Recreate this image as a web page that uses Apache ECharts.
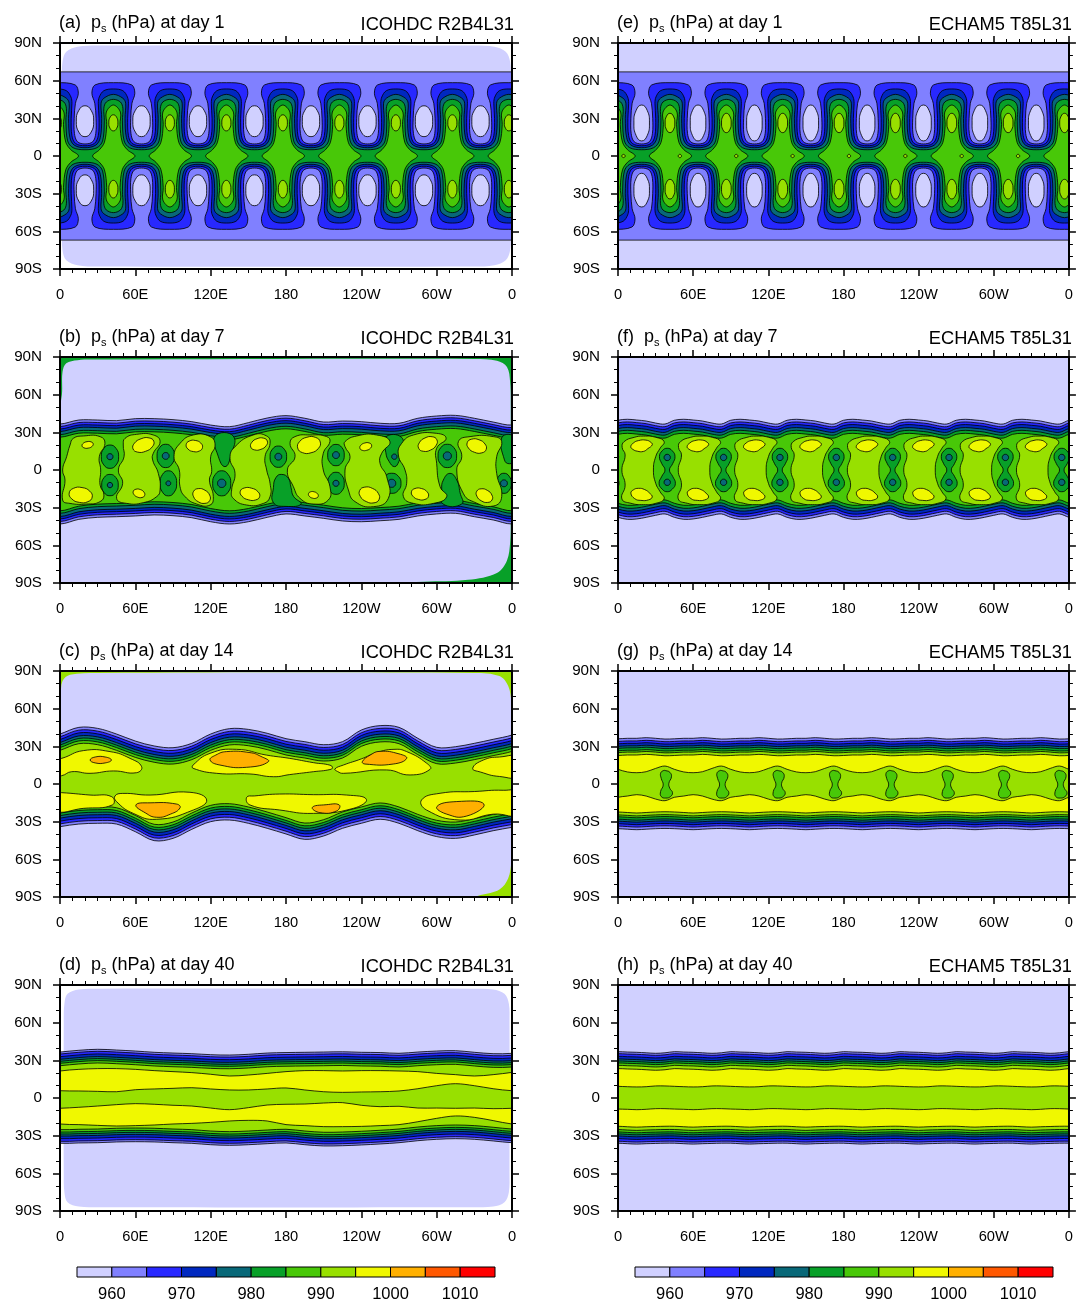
<!DOCTYPE html>
<html><head><meta charset="utf-8">
<style>html,body{margin:0;padding:0;background:#fff}#c{width:1076px;height:1303px}</style>
<script src="https://cdn.jsdelivr.net/npm/echarts@6/dist/echarts.min.js"></script>
</head><body><div id="c"></div>
<script>
const LEVEL_COLORS=['#D0D0FF','#8080FF','#2828FF','#0028C0','#086878','#08A028','#48C808','#98E000','#F0F800','#FFB000','#FF5800','#FF0000'];
const LEVEL_EDGES=[955,960,965,970,975,980,985,990,995,1000,1005,1010,1015];
const LON_LABELS=['0','60E','120E','180','120W','60W','0'];
const LAT_LABELS=['90S','60S','30S','0','30N','60N','90N'];
const PANEL_TAGS=['(a)','(b)','(c)','(d)','(e)','(f)','(g)','(h)'];
const PANEL_DAYS=[1,7,14,40,1,7,14,40];
const MODEL_NAMES=['ICOHDC R2B4L31','ECHAM5 T85L31'];

/* ---- corner-free area of the ICOHDC panels (lon,lat) ---- */
const ROUND_A=[[1.5,60],[2,75],[5,83],[14,87],[30,88],[330,88],[346,87],[355,83],[358.5,75],[359,60],[359,-60],[358.5,-75],[355,-83],[346,-87],[330,-88],[30,-88],[14,-87],[5,-83],[2,-75],[1.5,-60]];
const ROUND_B=[[1.5,60],[2,78],[5,85],[14,87.5],[30,88],[330,88.5],[348,87],[356,82],[358.5,70],[359,50],[359,-40],[358.5,-58],[356,-72],[348,-82],[325,-87.5],[290,-89],[200,-92],[-5,-92],[-5,0],[-2,40]];
const ROUND_C=[[0.5,70],[2,82],[8,87],[30,88.5],[330,88.5],[350,86],[357,78],[359.5,65],[360,50],[365,0],[360,-50],[359.5,-62],[357,-75],[350,-84],[335,-88.5],[320,-92],[-5,-92],[-5,0],[-2,50]];
const ROUND_D=[[3,60],[3.5,75],[6,83],[15,86.5],[30,87],[330,87],[345,86.5],[354,83],[357.5,75],[358,60],[358,-60],[357.5,-75],[354,-83],[345,-86.5],[330,-87],[30,-87],[15,-86.5],[6,-83],[3.5,-75],[3,-60]];

/* ---- day 1: one 45-degree wave cell, [lon from oval centre, lat] ---- */
const MEANDER_L2=[[0,9.6],[6.2,11.4],[8.6,18],[8.8,30],[7.8,42],[5.5,50],[8,56.6],[22.6,58.4],[37.2,56.6],[39.7,50],[37.4,42],[36.4,30],[36.6,18],[39,11.4]];
const MEANDER_L3=[[0,8.2],[7.5,10],[10.6,16.2],[11.2,30],[10.6,42],[11.4,47],[15,52],[22.6,53.4],[30.2,52],[33.8,47],[34.6,42],[34,30],[34.6,16.2],[37.5,10]];
const MEANDER_L4=[[0,6.6],[8.5,8.6],[12.2,14.6],[13.3,30],[12.8,42],[15,46],[22.6,49.1],[30.2,46],[32.4,42],[31.9,30],[33,14.6],[36.5,8.6]];
const MEANDER_L5=[[0,5],[9.5,6.6],[14,12],[15.4,28],[15,38],[17,43],[22.6,45.1],[28.2,43],[30.2,38],[29.8,28],[31.2,12],[35.5,6.6]];
const DIAMOND_L6=[[6.1,0],[11.5,5],[15.5,11],[17.3,25],[17,35],[22.6,40.6],[28.2,35],[27.9,25],[29.7,11],[33.7,5],[39.8,0],[33.7,-5],[29.7,-11],[27.9,-25],[28.2,-35],[22.6,-40.6],[17,-35],[17.3,-25],[15.5,-11],[11.5,-5]];
const ISLANDS_E=[[22.6,26.3,3.85,7.7],[22.6,-26.4,3.85,7.8]];
const ISLANDS_A=[[22.6,26.4,3.6,6.4],[22.6,-26.4,3.6,7]];
const OVALS_E=[[0,26.3,6.2,14.3],[0,-27.2,6.2,13.4]];
const OVALS_A=[[0,27.7,6.9,12.3],[0,-27.3,6.9,12.3]];
const DOT_E=[[30.5,0,1.3,1.3]];

/* ---- north / south outer contour at 0,15,...,360E ---- */
const B_NORTH=[36.6,39.8,39.8,39.3,40.9,40.9,40.1,38.5,35.8,34.5,37.7,41.4,43.3,41.2,38.2,39,38.5,37.2,37.2,41.2,43,43.5,41.2,38.2,35.8];
const B_SOUTH=[-43,-39.3,-37.7,-37.2,-36.6,-35.8,-36.4,-38,-41.2,-43,-41.2,-37.7,-35,-36.6,-38.5,-40.6,-41.2,-40.4,-39.3,-36.6,-35,-34.5,-37.2,-39.8,-43];
const C_NORTH=[39.8,45.1,44.3,39.8,34.2,30.3,28.9,32.4,39.8,44.1,43.5,40.4,36.1,33.7,31.3,33.7,43,46.5,45.1,36.4,29.2,29.7,32.4,35.6,39];
const C_SOUTH=[-34,-31.9,-31.3,-31.9,-38,-45.1,-43.3,-36.1,-30,-28.7,-31.3,-35.3,-39.8,-44.1,-41.4,-35.3,-31.3,-28.1,-31.3,-37.2,-41.9,-43.3,-40.6,-37.2,-34.5];
const D_NORTH=[36.6,38,38.8,38.2,37.4,36.4,35.8,35.3,34.5,34.2,34.8,35.8,36.2,36.4,36.6,36.8,36.4,36.2,35.6,36.6,37.4,37.7,36.4,35.3,35.6];
const D_SOUTH=[-36.1,-35.8,-35.6,-35,-34.8,-35,-35.6,-36.1,-37.2,-37.7,-37.2,-36.4,-35.8,-37.2,-38.2,-38,-37.4,-36.6,-35.6,-34,-32.9,-32.4,-32.9,-34.2,-35.6];
const D_NORTH_L8=[21.5,22.8,23.4,23.4,22.8,21.8,21,20.2,18.9,17.5,18.3,19.6,21,21.8,21.8,21.5,21.8,21.8,21.5,21,19.6,18.6,17.5,18.6,20.4];
const D_SOUTH_L8=[-20.7,-21.2,-21.8,-22.3,-22,-21.5,-20.7,-20.2,-19.4,-18.3,-17.8,-18.3,-21.2,-22,-22.8,-22.8,-22.6,-22,-21.2,-18.9,-16.2,-14.3,-15.4,-18,-20.7];
const D_CENTRE_N=[5.8,5.6,5.3,5,6.6,7.2,7.7,8.2,7.2,6.4,6.4,7.2,8,6.4,5,4.5,4.8,5,5.6,7.4,9.8,11.4,9.8,7.4,5.8];
const D_CENTRE_S=[-8.2,-7.4,-6.4,-5.3,-4.5,-5,-5.8,-6.4,-8,-9.3,-7.7,-5.6,-5,-4.8,-4,-3.7,-5.8,-6.9,-6.6,-8,-8,-8.2,-8,-8.5,-8.2];
const INSETS_B=[0,2,4,6,8.5,10.5];
const INSETS_C=[0,2.2,4.4,6.8,8.8,10.8,13];
const INSETS_D=[0,1.6,3.7,5.8,7.4,9,10.9];

/* ---- ECHAM5 wave cells: lat at 0,7.5,...,37.5 degrees of each 45-degree wave ---- */
const F_NORTH=[39.6,40.4,39.8,39,37.4,36.6];
const F_SOUTH=[-37.7,-39.3,-39,-37.7,-36.1,-35];
const INSETS_F=[0,2.1,4.2,6.6,8.8,11.2];
const G_NORTH=[36,36.4,36.4,36.9,36.4,35.8];
const G_SOUTH=[-35.6,-36,-36.4,-36,-35.6,-35.4];
const INSETS_G=[0,2.1,4,6,7.6,9.5,11,13.3];
const G_CENTRE_N=[11.7,9.6,9,9.8,12.4,14.3];
const G_CENTRE_S=[-10.6,-9.6,-8.5,-9.6,-12,-13.3];
const H_NORTH=[36.9,36.6,36.4,36,35.6,36];
const H_SOUTH=[-36,-36.4,-36.7,-36.4,-36.2,-36];
const INSETS_H=[0,1.6,3.7,5.8,7.4,9,10.9,13.5];
const H_CENTRE_N=[9.3,9,8.8,9,9.6,9.6];
const H_CENTRE_S=[-8.8,-9,-9.3,-9,-8.5,-8.5];

/* ---- day 7 f: cell shapes, [lon from depression centre, lat] ---- */
const F_BLOB=[[10.6,22.6],[18.6,26],[26,27],[36,26],[42.5,22.6],[39.3,17.3],[35.8,10.6],[34,0],[35.8,-10.6],[39.3,-17.3],[42.5,-23],[36,-26.5],[26,-27.6],[16,-26.5],[8.8,-23],[11.4,-12],[8.8,0],[11.4,12],[9,18]];
const F_YELLOW_N=[[15.9,18.6],[18,21.5],[22,23.4],[28,23.8],[32,22],[33,20],[29.5,17],[26,14.8],[21,15],[17.5,16.5]];
const F_YELLOW_S=[[16,-18.5],[18,-15.8],[22,-14.6],[27,-15.6],[31,-18.5],[33,-21.5],[30,-23.8],[24,-24.2],[19,-22.8]];
const F_PEANUT=[[0,17.3],[4,15.3],[6.2,10.6],[4.3,5],[1.8,0],[4.3,-5],[6.5,-10.6],[4,-15.3],[0,-17.3],[-4,-15.3],[-6.5,-10.6],[-4.3,-5],[-1.8,0],[-4.3,5],[-6.2,10.6],[-4,15.3]];
const F_CORES=[[0,10,2.5,2.5],[0,-9.8,2.5,2.5]];
const G_PEANUT=[[0,10.6],[3.2,9.3],[4.5,5.8],[2.4,0.5],[3.2,-3.5],[5.3,-6.9],[3.7,-10],[0,-11.2],[-3.7,-10],[-4.2,-6],[-2.1,-0.8],[-3.7,4.5],[-4.2,8.5],[-2.1,10.6]];

/* ---- day 7 b: contour polygons and ovals ---- */
const B_BLOBS=[
[[10.6,25.2],[18.6,27.1],[31.9,26.6],[35.8,21.2],[31.3,10.6],[32.4,0],[31.9,-11.9],[35,-19.9],[31.9,-25.2],[21.2,-27.1],[8,-26.6],[2.1,-23.9],[4,-8],[2.1,0],[5.3,10.6],[8,19.9]],
[[51.8,25.2],[61,28.4],[74.3,27.9],[79.7,22.6],[74.3,13.3],[73.8,8],[78.3,-2.7],[79.7,-15.9],[77,-21.2],[66.4,-26],[53.1,-26.6],[45.1,-22.6],[49.9,-10.6],[46.5,0],[51,10.6],[50.4,19.9]],
[[95.6,21.2],[106.2,27.9],[119.5,26.6],[123.5,19.9],[120,10.6],[120.8,-1.3],[119,-8],[122.1,-21.2],[119.5,-27.9],[108.9,-27.1],[99.6,-21.2],[95.6,-13.3],[95,0],[90.8,10.6]],
[[139.4,18.6],[154,27.9],[164.6,27.1],[167.3,21.2],[163.3,10.6],[164.6,0],[167.3,-10.6],[167.3,-21.2],[162,-26.6],[148.7,-27.9],[138,-22.6],[136.7,-15.9],[139.4,-2.7],[135.4,9.3]],
[[187.2,26.6],[199.1,27.9],[212.4,26.6],[215,22.6],[209.7,13.3],[209.7,0],[215,-13.3],[213.7,-23.9],[201.8,-27.1],[191.2,-22.6],[185.9,-13.3],[181.1,0],[187.2,10.6],[183.2,21.2]],
[[227,22.6],[236.3,27.1],[252.2,27.9],[262.8,22.6],[256.2,13.3],[254.9,5.3],[260.2,-5.3],[261.5,-22.6],[249.6,-29.2],[235,-25.2],[229.7,-15.9],[227,0],[231,10.6],[227,18.6]],
[[272.1,21.2],[281.5,27.9],[300,29.2],[307.5,25.2],[300,17.3],[300,5.3],[302.7,-13.3],[308,-21.2],[297.4,-26.6],[281.5,-26.6],[273.5,-21.2],[276.1,-10.6],[274.8,0],[269.5,11.9]],
[[317.3,22.6],[326.6,26.6],[345.1,26.6],[351.8,22.6],[347.8,10.6],[347.8,-2.7],[351.8,-21.2],[345.1,-28.7],[329.1,-25.2],[321.2,-18.6],[316,0],[320,10.6]]];
const B_YELLOW=[[22,20,4.5,2.6,10],[16.5,-19.9,9.3,6,-10],[66.4,19.9,8.8,5.3,20],[62.9,-18.6,4.8,3.2,-20],[107,19.1,6.6,4.5,-10],[112.8,-20.7,7.4,5.3,-30],[158.5,20.7,7,4.5,20],[151.3,-19.1,8,4.8,-15],[198.3,19.9,9.3,6.4,15],[201.8,-19.9,4,2.6,-15],[243.5,18.6,4.8,3,15],[246.4,-19.9,8.5,5.8,-25],[292.9,20.7,8,5.3,25],[286.7,-19.1,7,4.5,-15],[331.9,19.1,8,5.3,-20],[338,-20.4,7,4.8,-30]];
const B_LOWS=[[39.8,10.6,6.9,9.3],[39.8,-12,6.6,8.5],[84.2,11.2,6.9,9.3],[86.3,-10.6,6.6,10],[128.8,-10.6,7.2,10],[173.9,10.6,6.6,8.5],[219.8,11.9,6.6,8.5],[219.8,-10.6,6.6,8.8],[264.2,-10.6,7.4,8],[308.5,11.2,7.4,9.3],[353.6,-10.6,5.8,8]];
const B_TONGUES=[
[[123.5,27],[138,27],[136,11],[131.4,2.7],[126,11]],
[[170,-26],[170,-14],[172,-6],[176.6,-3.5],[181.9,-6.6],[184,-14],[186,-21],[192,-27],[180,-29]],
[[259,26],[272,26],[272,14],[270,7],[266.5,2.7],[262,7],[259.5,14]],
[[305.3,-8],[310.6,-2.7],[316,-8],[318.6,-18],[320,-27],[305,-27],[304,-16]],
[[352,26],[362,26],[362,8],[358,5],[354,8]]];
const B_CORES=[[39.8,10.6,2.4,2.4],[39.8,-12,2.1,2.1],[84.2,11.2,2.7,2.7],[86.3,-10.6,1.9,1.9],[128.8,-10.6,3.3,3.3],[173.9,10.6,2.7,2.7],[219.8,11.9,2.7,2.7],[219.8,-10.6,2.4,2.4],[266.3,10.6,2.1,2.1],[264.2,-10.6,3.2,3.2],[308.5,11.2,3.2,3.2],[353.6,-10.6,2.7,2.7]];

/* ---- day 14 c ---- */
const C_YELLOW=[
[[-4,20],[1.3,20.4],[18.6,26.6],[39.8,25.8],[55.8,20.4],[65,13.8],[61,9],[42.5,10.4],[23.9,8.5],[9.3,9.8],[1.3,6.6],[-4,7]],
[[106,15.1],[119.5,24.4],[140.7,27.6],[164.6,23],[183,20.4],[201.8,17],[215,15],[217,13],[215,11.5],[201.8,9.8],[183,7.5],[170,5.8],[151.3,8],[124.8,8.5],[106,12.5]],
[[219,12],[225.7,15.1],[240,20],[252.2,25],[266,27.6],[276.1,25.8],[292.1,16.5],[294.8,11.7],[278.8,7.2],[260.2,11.2],[225.7,8.5],[221,10]],
[[328.7,12.5],[337.2,19.1],[350,21.5],[366,21],[366,6.5],[350,6],[335,9.5]],
[[-4,-7],[1.3,-6.9],[23.9,-8.8],[41.2,-10.1],[41.7,-16.7],[18.6,-19.4],[-4,-21]],
[[43.8,-9.5],[50,-7.5],[71.7,-8.8],[103.5,-6.6],[116.8,-12.7],[106.2,-20.7],[77,-28.1],[58.4,-23.4],[45,-14]],
[[148.7,-10.6],[155,-9.5],[175,-8],[201.8,-8.5],[228.3,-8.8],[244,-12.2],[233.6,-19.4],[201.8,-23.4],[175,-20.7],[151.3,-16.7]],
[[288,-12.7],[302.7,-7.4],[330,-6],[353,-5],[366,-7],[366,-24],[345,-24],[318.6,-28.7],[291.9,-20.7]]];
const C_ORANGE=[
[[24,19.1],[28,21.5],[36,21.5],[40.9,19.1],[36,16.8],[28,16.8]],
[[119.5,19.1],[124,23],[132.7,25.8],[151.3,25],[160,22],[166,17.8],[148.7,13.3],[127.4,15.1]],
[[240.8,17.8],[247,23],[254.9,26],[270,24],[276.1,20.4],[265.4,15.9],[242.9,15.9]],
[[60.5,-16.7],[71.7,-15],[93,-16],[95.6,-19],[88,-24],[77,-26.5],[68,-23]],
[[201,-18.6],[212,-16.5],[222.4,-16.7],[220.3,-21.5],[207,-22.8]],
[[300.2,-18],[316,-14],[337.6,-16],[324,-25.5],[308,-24]]];

/* ---- builders: turn the arrays above into contour polygons ---- */
const WHOLE=[[-10,100],[370,100],[370,-100],[-10,-100]];
const zonal=(lats)=>{const o=[[-15,lats[23]]];lats.forEach((v,i)=>o.push([i*15,v]));o.push([375,lats[1]]);return o;};
const waved=(cell)=>{const o=[];for(let n=-1;n<9;n++)cell.forEach((v,i)=>o.push([45*n+7.5*i,v]));return o;};
const down=(edge,d)=>edge.map(p=>[p[0],p[1]-d]);
const between=(n,s)=>n.concat(s.slice().reverse());
const moved=(pts,dx)=>pts.map(p=>[p[0]+dx,p[1]]);
const oval=(e)=>{const k=0.7071,[x,y,a,b]=e,t=(e[4]||0)*Math.PI/180,c=Math.cos(t),q=Math.sin(t);
  return [[0,b],[a*k,b*k],[a,0],[a*k,-b*k],[0,-b],[-a*k,-b*k],[-a,0],[-a*k,b*k]].map(p=>[x+p[0]*c-p[1]*q,y+p[0]*q+p[1]*c]);};
const S=(level,pts,opt)=>Object.assign({level,pts},opt||{});
const R={round:1};
function bands(list,north,south,insets){insets.forEach((d,i)=>list.push(S(i+1,between(down(north,d),down(south,-d)))));}
function eachWave(shift,fn){for(let n=-1;n<9;n++)fn(shift+45*n);}

function day1(corner,round,shift,islands,ovals,dots){
  const L=[];
  L.push(S(corner,WHOLE,{sharp:1,noLine:1}));
  if(round)L.push(S(0,round,{noLine:1}));
  L.push(S(1,[[-10,67],[370,67],[370,-67],[-10,-67]],{sharp:1}));
  [MEANDER_L2,MEANDER_L3,MEANDER_L4,MEANDER_L5].forEach((m,i)=>{
    const n=[],s=[];eachWave(shift,x=>m.forEach(p=>{n.push([p[0]+x,p[1]]);s.push([p[0]+x,-p[1]]);}));
    L.push(S(i+2,between(n,s)));
  });
  eachWave(shift,x=>{
    L.push(S(6,moved(DIAMOND_L6,x)));
    islands.forEach(e=>L.push(S(7,moved(oval(e),x),R)));
    ovals.forEach(e=>L.push(S(0,moved(oval(e),x),R)));
    dots.forEach(e=>L.push(S(7,moved(oval(e),x),R)));
  });
  return L;
}
function panelB(){
  const L=[S(5,WHOLE,{sharp:1,noLine:1}),S(0,ROUND_B,{noLine:1})];
  bands(L,zonal(B_NORTH),zonal(B_SOUTH),INSETS_B);
  B_TONGUES.forEach(p=>L.push(S(5,p,R)));
  B_LOWS.forEach(e=>L.push(S(5,oval(e),R)));
  B_CORES.forEach(e=>L.push(S(4,oval(e),R)));
  B_BLOBS.forEach(p=>L.push(S(7,p,R)));
  B_YELLOW.forEach(e=>L.push(S(8,oval(e),R)));
  return L;
}
function panelC(){
  const L=[S(7,WHOLE,{sharp:1,noLine:1}),S(0,ROUND_C,{noLine:1})];
  bands(L,zonal(C_NORTH),zonal(C_SOUTH),INSETS_C);
  C_YELLOW.forEach(p=>L.push(S(8,p,R)));
  C_ORANGE.forEach(p=>L.push(S(9,p,R)));
  return L;
}
function panelD(){
  const L=[S(-1,WHOLE,{sharp:1,noLine:1}),S(0,ROUND_D,{noLine:1})];
  bands(L,zonal(D_NORTH),zonal(D_SOUTH),INSETS_D);
  L.push(S(8,between(zonal(D_NORTH_L8),zonal(D_SOUTH_L8))));
  L.push(S(7,between(zonal(D_CENTRE_N),zonal(D_CENTRE_S))));
  return L;
}
function panelF(){
  const L=[S(0,WHOLE,{sharp:1,noLine:1})];
  bands(L,waved(F_NORTH),waved(F_SOUTH),INSETS_F);
  eachWave(39.3,x=>{
    L.push(S(7,moved(F_BLOB,x),R));
    L.push(S(8,moved(F_YELLOW_N,x),R));L.push(S(8,moved(F_YELLOW_S,x),R));
    L.push(S(5,moved(F_PEANUT,x),R));
    F_CORES.forEach(e=>L.push(S(4,moved(oval(e),x),R)));
  });
  return L;
}
function panelG(){
  const L=[S(0,WHOLE,{sharp:1,noLine:1})];
  bands(L,waved(G_NORTH),waved(G_SOUTH),INSETS_G);
  L.push(S(7,between(waved(G_CENTRE_N),waved(G_CENTRE_S))));
  eachWave(38.2,x=>L.push(S(6,moved(G_PEANUT,x),R)));
  return L;
}
function panelH(){
  const L=[S(0,WHOLE,{sharp:1,noLine:1})];
  bands(L,waved(H_NORTH),waved(H_SOUTH),INSETS_H);
  L.push(S(7,between(waved(H_CENTRE_N),waved(H_CENTRE_S))));
  return L;
}
const PANEL_SHAPES=[
  day1(-1,ROUND_A,19.9,ISLANDS_A,OVALS_A,[]),panelB(),panelC(),panelD(),
  day1(0,null,18.9,ISLANDS_E,OVALS_E,DOT_E),panelF(),panelG(),panelH()];

/* ---- layout ---- */
const FONT='"Liberation Sans",Arial,sans-serif';
const PLOT_W=452,PLOT_H=226,COL_X=[60,618],ROW_Y=[43,357,671,985],BAR_X=[77,635];
const grid=[],xAxis=[],yAxis=[],series=[],title=[];
const axisBase={z:5,axisLine:{show:true,onZero:false,lineStyle:{color:'#000',width:2}},splitLine:{show:false},
  axisTick:{show:true,length:7,lineStyle:{color:'#000',width:1.5}}};
PANEL_SHAPES.forEach((shapes,i)=>{
  const col=i<4?0:1,row=i%4,left=COL_X[col],top=ROW_Y[row];
  grid.push({left,top,width:PLOT_W,height:PLOT_H});
  ['bottom','top'].forEach(pos=>xAxis.push(Object.assign({},axisBase,{gridIndex:i,type:'value',position:pos,min:0,max:360,interval:60,
    minorTick:{show:true,splitNumber:6,length:4,lineStyle:{color:'#000',width:1}},
    axisLabel:{show:pos==='bottom',margin:18,fontFamily:FONT,fontSize:14.7,color:'#000',formatter:v=>LON_LABELS[v/60]}})));
  ['left','right'].forEach(pos=>yAxis.push(Object.assign({},axisBase,{gridIndex:i,type:'value',position:pos,min:-90,max:90,interval:30,
    minorTick:{show:true,splitNumber:3,length:4,lineStyle:{color:'#000',width:1}},
    axisLabel:{show:pos==='left',margin:18,padding:[3,0,0,0],fontFamily:FONT,fontSize:15.2,color:'#000',formatter:v=>LAT_LABELS[(v+90)/30]}})));
  series.push({type:'custom',xAxisIndex:i*2,yAxisIndex:i*2,clip:true,silent:true,animation:false,
    data:shapes.map((s,k)=>[k]),
    renderItem:(params,api)=>{
      const s=shapes[api.value(0)];
      return {type:'polygon',shape:{points:s.pts.map(p=>api.coord(p)),smooth:s.sharp?0:(s.round?0.5:0.35)},
        style:{fill:s.level<0?'#fff':LEVEL_COLORS[s.level],stroke:s.noLine?null:'#000',lineWidth:s.noLine?0:0.8}};
    }});
  title.push({left:left-1,top:top-31,padding:0,
    text:'{t|'+PANEL_TAGS[i]+'  p}{s|s}{t| (hPa) at day '+PANEL_DAYS[i]+'}',
    textStyle:{fontWeight:'normal',rich:{t:{fontFamily:FONT,fontSize:18,fontWeight:'normal',lineHeight:22,color:'#000'},s:{fontFamily:FONT,fontSize:11,fontWeight:'normal',lineHeight:22,color:'#000',verticalAlign:'bottom'}}}});
  title.push({right:1076-left-PLOT_W-2,top:top-27,padding:0,text:MODEL_NAMES[col],
    textStyle:{fontFamily:FONT,fontSize:18.3,fontWeight:'normal',color:'#000'}});
});
BAR_X.forEach((left,b)=>{
  const i=8+b;
  grid.push({left,top:1267,width:418,height:17});
  xAxis.push({gridIndex:i,type:'value',min:955,max:1015,interval:5,axisLine:{show:false},axisTick:{show:false},splitLine:{show:false},
    axisLabel:{margin:9,fontFamily:FONT,fontSize:16.5,color:'#000',formatter:v=>v%10===0?String(v):''}});
  xAxis.push({gridIndex:i,type:'value',show:false,min:955,max:1015});
  yAxis.push({gridIndex:i,type:'value',show:false,min:0,max:1});
  yAxis.push({gridIndex:i,type:'value',show:false,min:0,max:1});
  series.push({type:'custom',xAxisIndex:i*2,yAxisIndex:i*2,silent:true,animation:false,clip:false,
    data:LEVEL_COLORS.map((c,k)=>[LEVEL_EDGES[k],LEVEL_EDGES[k+1],k]),
    renderItem:(params,api)=>{
      const a=api.coord([api.value(0),1]),z=api.coord([api.value(1),0]);
      return {type:'rect',shape:{x:a[0],y:a[1],width:z[0]-a[0],height:z[1]-a[1]},
        style:{fill:LEVEL_COLORS[api.value(2)],stroke:'#000',lineWidth:1}};
    }});
});
const chart=echarts.init(document.getElementById('c'),null,{renderer:'canvas'});
chart.setOption({animation:false,backgroundColor:'#fff',title,grid,xAxis,yAxis,series});
</script></body></html>
